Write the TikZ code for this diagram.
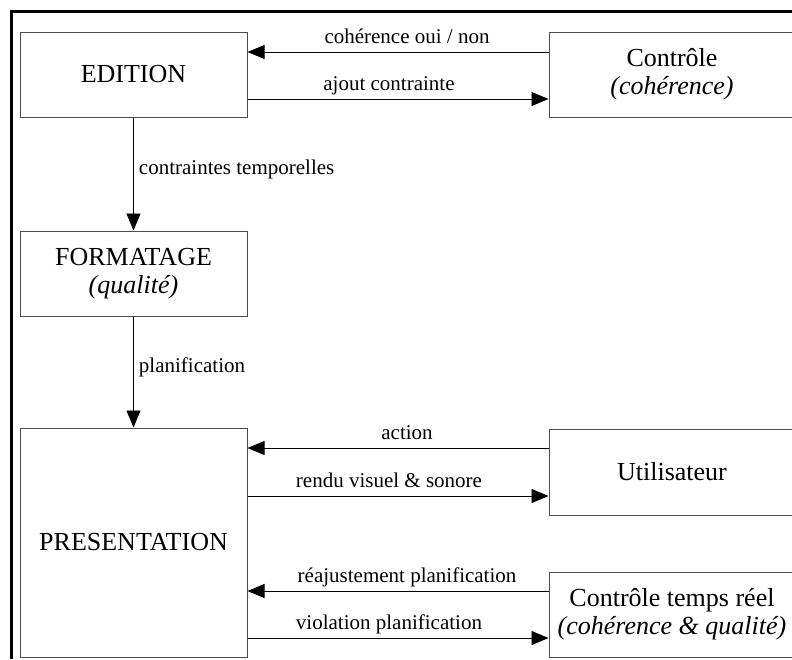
\documentclass[tikz,border=0pt]{standalone}
\usepackage{fontspec}
\setmainfont{Liberation Serif}
\usepackage{tikz}
\usetikzlibrary{calc,positioning,arrows.meta}

\begin{document}
\begin{tikzpicture}[x=1pt, y=-1pt]
\tikzstyle{boite}=[rectangle, draw=black!70, line width=1pt, inner sep=2pt,
                   minimum width=227pt, minimum height=85pt, align=center,
                   font=\fontsize{26}{28}\selectfont]
\tikzstyle{etiq}=[inner sep=0pt, text depth=0pt, font=\fontsize{21}{24}\selectfont]
\tikzstyle{fleche}=[-{Triangle[length=17pt,width=14pt]}, line width=0.9pt]
\useasboundingbox (0,0) rectangle (792,659);
\draw[line width=3pt] (11.5,659) -- (11.5,11) -- (792,11);
\node[boite] (ED) at (133.5,74.5) {EDITION};
\node[boite] (FO) at (133.5,273.5) {FORMATAGE\\\textit{(qualité)}};
\node[boite, minimum height=229pt] (PR) at (133.5,542.5) {PRESENTATION};
\node[boite, minimum width=246pt] (CO) at (672,74.5) {Contrôle\\\textit{(cohérence)}};
\node[boite, minimum width=246pt, minimum height=86pt] (UT) at (672,472) {Utilisateur};
\node[boite, minimum width=246pt] (CT) at (672,614.5) {Contrôle temps réel\\\textit{(cohérence \& qualité)}};
\draw[fleche] (ED) -- node[etiq, right=5pt, pos=0.44] {contraintes temporelles} (FO);
\draw[fleche] (FO) -- node[etiq, right=5pt, pos=0.44] {planification} (PR);
\draw[fleche] ($(CO.west)+(0,-22.5)$) -- node[etiq, above=8.5pt, pos=0.47] {cohérence oui / non} ($(CO.west -| ED.east)+(0,-22.5)$);
\draw[fleche] ($(ED.east)+(0,24.5)$) -- node[etiq, above=8.5pt, pos=0.47] {ajout contrainte} ($(ED.east -| CO.west)+(0,24.5)$);
\draw[fleche] ($(UT.west)+(0,-24)$) -- node[etiq, above=8.5pt, pos=0.47] {action} ($(UT.west -| PR.east)+(0,-24)$);
\draw[fleche] ($(UT.west -| PR.east)+(0,24)$) -- node[etiq, above=8.5pt, pos=0.47] {rendu visuel \& sonore} ($(UT.west)+(0,24)$);
\draw[fleche] ($(CT.west)+(0,-23.5)$) -- node[etiq, above=8.5pt, pos=0.47] {réajustement planification} ($(CT.west -| PR.east)+(0,-23.5)$);
\draw[fleche] ($(CT.west -| PR.east)+(0,23.5)$) -- node[etiq, above=8.5pt, pos=0.47] {violation planification} ($(CT.west)+(0,23.5)$);
\end{tikzpicture}
\end{document}
